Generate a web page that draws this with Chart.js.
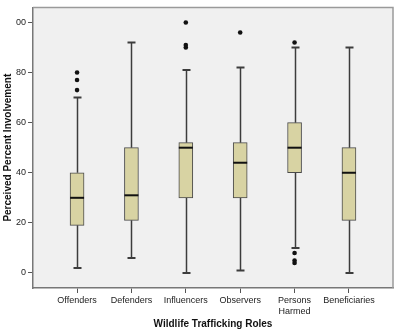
<!DOCTYPE html>
<html lang="en">
  <head>
    <meta charset="UTF-8" />
    <script src="https://cdn.jsdelivr.net/npm/chart.js@4.4.1/dist/chart.umd.min.js"></script>
    <title>Wildlife Trafficking Roles</title>
    <style>
      html,
      body {
        margin: 0;
        padding: 0;
        background: white;
      }
      .wrap {
        width: 400px;
        height: 330px;
      }
    </style>
  </head>
  <body>
    <div class="wrap"><canvas id="myChart"></canvas></div>
    <script>
      const categories = ["Offenders", "Defenders", "Influencers", "Observers", ["Persons", "Harmed"], "Beneficiaries"];
      const whiskerLow = [2, 6, 0, 1, 10, 0];
      const q1 = [19, 21, 30, 30, 40, 21];
      const median = [30, 31, 50, 44, 50, 40];
      const q3 = [40, 50, 52, 52, 60, 50];
      const whiskerHigh = [70, 92, 81, 82, 90, 90];
      const outliers = [[73, 77, 80], [], [90, 91, 100], [96], [4, 5, 8, 92], []];
      const yTicks = [0, 20, 40, 60, 80, 100];

      // boxes as floating bars
      const boxData = categories.map((c, i) => ({ x: i, y: [q1[i], q3[i]] }));
      const outlierData = [];
      outliers.forEach((list, i) => list.forEach(v => outlierData.push({ x: i, y: v })));

      // whiskers, caps and medians drawn from the scales
      const boxExtras = {
        id: "boxExtras",
        beforeDraw(chart) {
          const { ctx, chartArea: a } = chart;
          ctx.save();
          ctx.fillStyle = "#f0f0f0";
          ctx.fillRect(a.left, a.top, a.right - a.left, a.bottom - a.top);
          ctx.restore();
        },
        beforeDatasetsDraw(chart) {
          const { ctx, scales } = chart;
          const xs = scales.x, ys = scales.y;
          ctx.save();
          ctx.strokeStyle = "#3c3c3c";
          ctx.lineWidth = 1.5;
          categories.forEach((c, i) => {
            const x = Math.round(xs.getPixelForValue(i)) + 0.5;
            ctx.beginPath();
            ctx.moveTo(x, ys.getPixelForValue(whiskerLow[i]));
            ctx.lineTo(x, ys.getPixelForValue(q1[i]));
            ctx.moveTo(x, ys.getPixelForValue(q3[i]));
            ctx.lineTo(x, ys.getPixelForValue(whiskerHigh[i]));
            ctx.stroke();
            ctx.lineWidth = 2;
            ctx.beginPath();
            [whiskerLow[i], whiskerHigh[i]].forEach(v => {
              const y = ys.getPixelForValue(v);
              ctx.moveTo(x - 4, y);
              ctx.lineTo(x + 4, y);
            });
            ctx.stroke();
            ctx.lineWidth = 1.5;
          });
          ctx.restore();
        },
        afterDatasetsDraw(chart) {
          const { ctx, scales, chartArea: a } = chart;
          const xs = scales.x, ys = scales.y;
          ctx.save();
          ctx.strokeStyle = "#111";
          ctx.lineWidth = 2;
          categories.forEach((c, i) => {
            const x = xs.getPixelForValue(i);
            const y = ys.getPixelForValue(median[i]);
            ctx.beginPath();
            ctx.moveTo(x - 7, y);
            ctx.lineTo(x + 7, y);
            ctx.stroke();
          });
          ctx.strokeStyle = "#9a9a9a";
          ctx.lineWidth = 1.5;
          ctx.beginPath();
          ctx.moveTo(a.left, a.top);
          ctx.lineTo(a.right, a.top);
          ctx.lineTo(a.right, a.bottom);
          ctx.stroke();
          ctx.restore();
        },
      };

      new Chart(document.getElementById("myChart"), {
        type: "bar",
        data: {
          datasets: [
            {
              type: "bar",
              data: boxData,
              backgroundColor: "#d8d3a3",
              borderColor: "#4a4a4a",
              borderWidth: 1,
              borderSkipped: false,
              barThickness: 14,
            },
            {
              type: "scatter",
              data: outlierData,
              pointRadius: 2.3,
              pointBackgroundColor: "#111",
              pointBorderWidth: 0,
            },
          ],
        },
        plugins: [boxExtras],
        options: {
          responsive: true,
          maintainAspectRatio: false,
          animation: false,
          layout: { padding: { top: 5, right: 7, left: 0, bottom: 0 } },
          plugins: { legend: { display: false }, tooltip: { enabled: false } },
          scales: {
            x: {
              type: "linear",
              offset: false,
              min: -0.81,
              max: 5.81,
              afterBuildTicks: s => { s.ticks = categories.map((c, i) => ({ value: i })); },
              afterFit: s => { s.height = 42; },
              ticks: {
                autoSkip: false,
                maxRotation: 0,
                padding: 2,
                color: "#222",
                font: { family: "Liberation Sans", size: 9 },
                callback: v => categories[v],
              },
              grid: { drawOnChartArea: false, offset: false, tickLength: 5, color: "#555" },
              border: { color: "#777", width: 1.5 },
              title: {
                display: true,
                text: "Wildlife Trafficking Roles",
                color: "#111",
                font: { family: "Liberation Sans", size: 10, weight: "bold" },
                padding: { top: 7, bottom: 0 },
              },
            },
            y: {
              min: -6,
              max: 106,
              afterBuildTicks: s => { s.ticks = yTicks.map(v => ({ value: v })); },
              afterFit: s => { s.width = 33; },
              ticks: {
                padding: 2,
                color: "#222",
                font: { family: "Liberation Sans", size: 9 },
                callback: v => (v === 100 ? "00" : v),
              },
              grid: { drawOnChartArea: false, tickLength: 5, color: "#555" },
              border: { color: "#777", width: 1.5 },
              title: {
                display: true,
                text: "Perceived Percent Involvement",
                color: "#111",
                font: { family: "Liberation Sans", size: 10, weight: "bold" },
                padding: { top: 2, bottom: 0 },
              },
            },
          },
        },
      });
    </script>
  </body>
</html>
